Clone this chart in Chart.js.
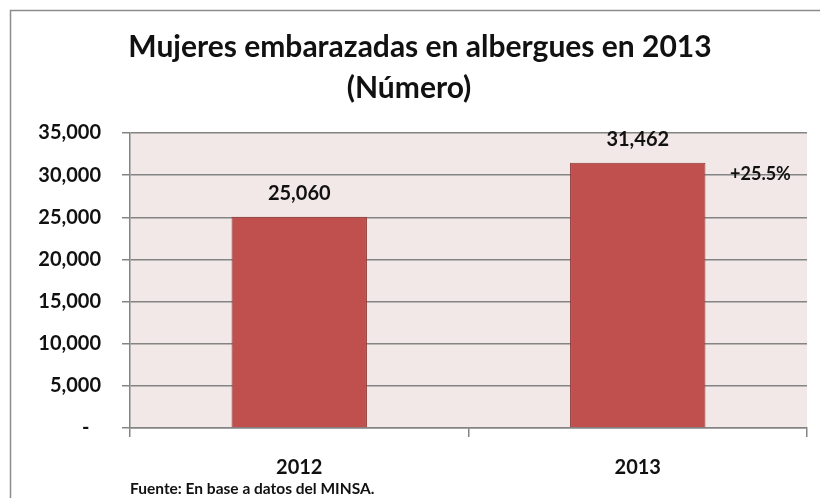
<!DOCTYPE html>
<html>
<head>
<meta charset="utf-8">
<script src="https://cdn.jsdelivr.net/npm/chart.js@4.4.1/dist/chart.umd.min.js"></script>
<style>
  html, body { margin: 0; padding: 0; background: #ffffff; }
  #wrap { width: 820px; height: 498px; position: relative; }
</style>
</head>
<body>
<div id="wrap"><canvas id="c" width="820" height="498"></canvas></div>
<script>
const titleLines = ["Mujeres embarazadas en albergues en 2013", "(Número)"];
const categories = ["2012", "2013"];
const values = [25060, 31462];
const changeLabel = "+25.5%";
const yTicks = [0, 5000, 10000, 15000, 20000, 25000, 30000, 35000];
const sourceNote = "Fuente: En base a datos del MINSA.";

const FONT = "Lato, 'Open Sans', sans-serif";
const TEXT = "#111111";
const fmt = v => v === 0 ? "-\u2007" : v.toLocaleString("en-US");

const decor = {
  id: "decor",
  beforeDraw(chart) {
    const ctx = chart.ctx, a = chart.chartArea;
    ctx.save();
    ctx.fillStyle = "#f2e8e8";
    ctx.fillRect(a.left, a.top, a.right - a.left, a.bottom - a.top);
    ctx.strokeStyle = "#8c8c8c";
    ctx.lineWidth = 1.5;
    ctx.beginPath();
    ctx.moveTo(10.5, 498);
    ctx.lineTo(10.5, 10.5);
    ctx.lineTo(820, 10.5);
    ctx.stroke();
    ctx.restore();
  },
  afterDraw(chart) {
    const ctx = chart.ctx, a = chart.chartArea;
    ctx.save();
    ctx.fillStyle = TEXT;
    ctx.textAlign = "center";
    ctx.textBaseline = "middle";
    ctx.font = "bold 30px " + FONT;
    ctx.fillText(titleLines[0], 420, 47);
    ctx.fillText(titleLines[1], 409, 88);
    const meta = chart.getDatasetMeta(0);
    ctx.font = "bold 20px " + FONT;
    meta.data.forEach((bar, i) => {
      ctx.fillText(values[i].toLocaleString("en-US"), bar.x, bar.y - 23);
    });
    const last = meta.data[meta.data.length - 1];
    ctx.font = "bold 18px " + FONT;
    ctx.fillText(changeLabel, last.x + last.width / 2 + 55, last.y + 11);
    ctx.textAlign = "left";
    ctx.font = "bold 15.5px " + FONT;
    ctx.fillText(sourceNote, a.left, 489);
    ctx.restore();
  }
};

new Chart(document.getElementById("c"), {
  type: "bar",
  data: {
    labels: categories,
    datasets: [{
      data: values,
      backgroundColor: "#c0504d",
      borderColor: "#8e3a38",
      borderWidth: 1,
      barPercentage: 0.4,
      categoryPercentage: 1.0
    }]
  },
  options: {
    responsive: false,
    animation: false,
    devicePixelRatio: 1,
    layout: { padding: { top: 133, right: 13, left: 0, bottom: 0 } },
    plugins: { legend: { display: false }, tooltip: { enabled: false }, title: { display: false } },
    scales: {
      y: {
        min: 0, max: 35000,
        afterFit(s) { s.width = 130; },
        afterBuildTicks(s) { s.ticks = yTicks.map(v => ({ value: v })); },
        ticks: {
          callback: v => fmt(v),
          font: { family: FONT, size: 20, weight: "bold" },
          color: TEXT,
          padding: 21
        },
        grid: { color: "#848484", lineWidth: 1.5, tickLength: 8, drawTicks: true },
        border: { color: "#848484", width: 1.5 }
      },
      x: {
        afterFit(s) { s.height = 70; },
        ticks: {
          font: { family: FONT, size: 20, weight: "bold" },
          color: TEXT,
          padding: 19
        },
        grid: { drawOnChartArea: false, color: "#848484", lineWidth: 1.5, tickLength: 9, offset: true },
        border: { color: "#848484", width: 1.5 }
      }
    }
  },
  plugins: [decor]
});
</script>
</body>
</html>
